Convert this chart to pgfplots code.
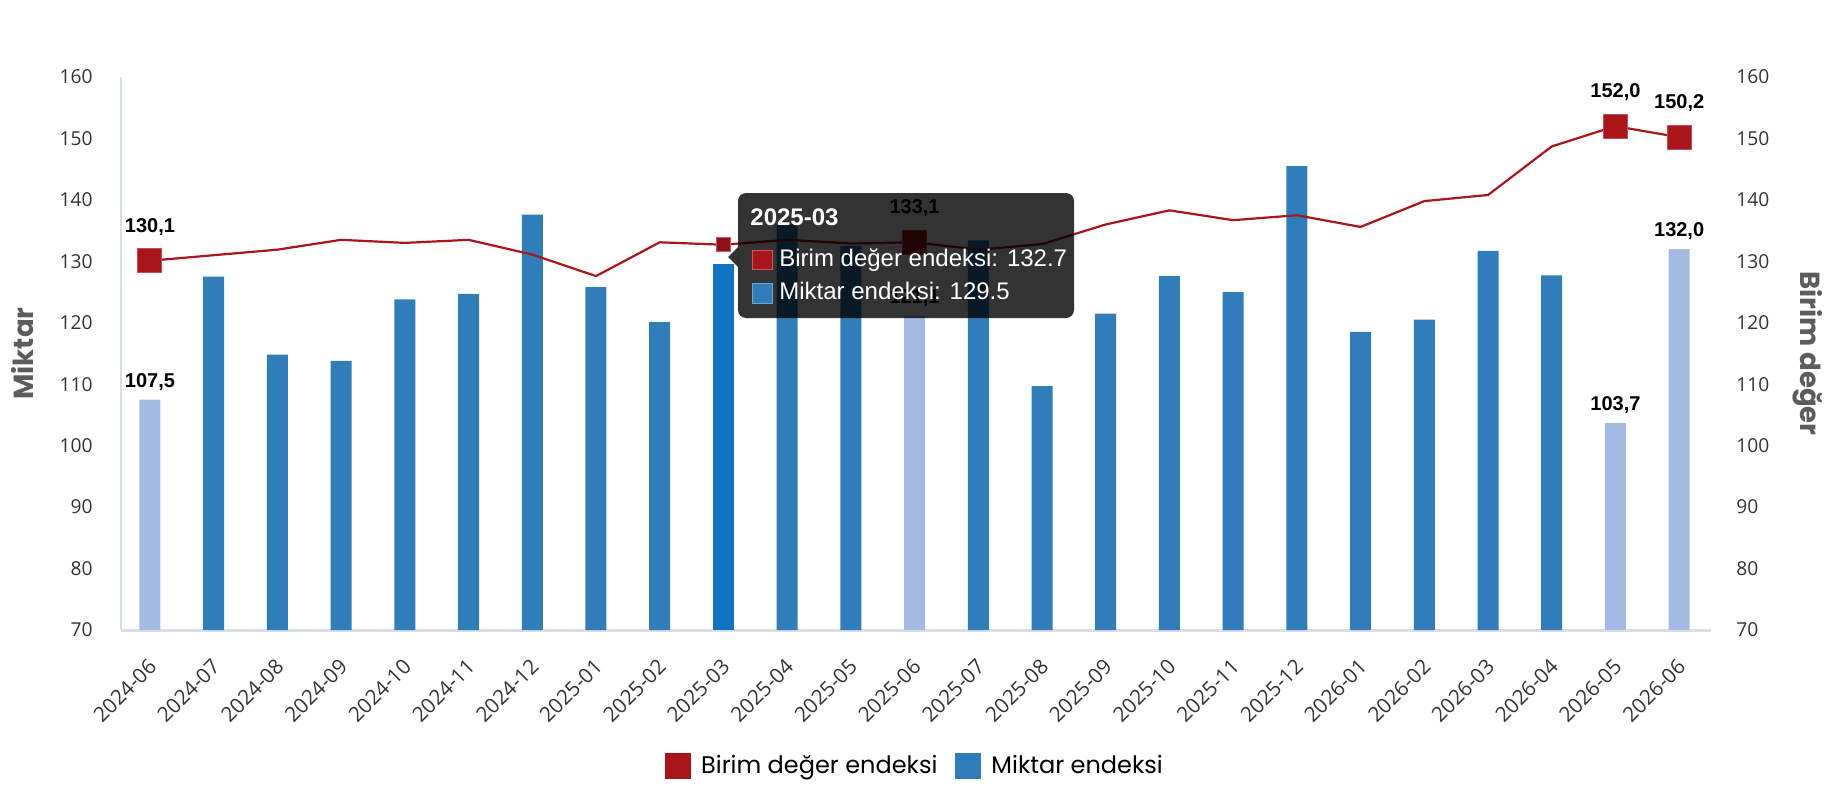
\documentclass[border=0pt]{standalone}
\usepackage{fontspec}
\setmainfont{Poppins}
\newfontfamily\arialf{Liberation Sans}
\newfontfamily\tickf{Open Sans}
\usepackage{pgfplots}
\pgfplotsset{compat=1.18}
\definecolor{barblue}{HTML}{307EB9}
\definecolor{barlight}{HTML}{A3BBE3}
\definecolor{barhi}{HTML}{0E74C1}
\definecolor{linered}{HTML}{AA151C}
\definecolor{axisgray}{HTML}{D9DEE5}
\definecolor{ticktext}{HTML}{333333}
\definecolor{titlegray}{HTML}{5C5C5C}
\pgfplotsset{
  /pgf/number format/assume math mode=true,
  base/.style={
    at={(60.5pt,85pt)}, anchor=south west,
    scale only axis, width=795pt, height=276.5pt,
    xmin=-0.455, xmax=24.5, ymin=70, ymax=160,
    ytick={70,80,...,160},
    major tick length=0pt,
    tick label style={font=\tickf\fontsize{9.6}{12}\selectfont, text=ticktext},
  },
  lbl/.style={nodes near coords={\pgfmathprintnumber[fixed, fixed zerofill, precision=1, use comma]{\pgfplotspointmeta}},
    every node near coord/.append style={font=\arialf\bfseries\fontsize{10}{12}\selectfont, text=black, anchor=south, inner sep=0pt, yshift=#1}},
}
\begin{document}
\begin{tikzpicture}
\useasboundingbox (0,0) rectangle (915pt,400pt);
\begin{axis}[base,
  axis y line*=left, axis x line*=bottom,
  x axis line style={axisgray, line width=1.5pt},
  y axis line style={axisgray, line width=0.6pt},
  xtick={0,...,24},
  xticklabels={2024-06,2024-07,2024-08,2024-09,2024-10,2024-11,2024-12,2025-01,2025-02,2025-03,2025-04,2025-05,2025-06,2025-07,2025-08,2025-09,2025-10,2025-11,2025-12,2026-01,2026-02,2026-03,2026-04,2026-05,2026-06},
  xticklabel style={font=\tickf\fontsize{10.4}{12}\selectfont, yshift=-13.5pt, xshift=-1.5pt, rotate=45, anchor=north east, inner sep=0pt},
  yticklabel style={anchor=east, inner sep=0pt, xshift=-14pt},
  ylabel={Miktar},
  ylabel style={at={(axis description cs:-0.062,0.5)}, anchor=center, font=\bfseries\fontsize{13.8}{16}\selectfont, text=titlegray},
]
\addplot[ybar, bar width=10.5pt, bar shift=0pt, fill=barblue, draw=none] coordinates {
(1,127.5) (2,114.8) (3,113.8) (4,123.8) (5,124.7) (6,137.6) (7,125.8) (8,120.1)
(10,136.0) (11,132.5) (13,133.4) (14,109.7) (15,121.5) (16,127.6) (17,125.0)
(18,145.5) (19,118.5) (20,120.5) (21,131.7) (22,127.7)};
\addplot[ybar, bar width=10.5pt, bar shift=0pt, fill=barhi, draw=none] coordinates {(9,129.5)};
\addplot[ybar, bar width=10.5pt, bar shift=0pt, fill=barlight, draw=none, lbl=4.5pt] coordinates {
(0,107.5) (12,121.1) (23,103.7) (24,132.0)};
\end{axis}
\begin{axis}[base,
  axis y line*=right, axis x line=none,
  y axis line style={draw=none},
  xtick=\empty,
  yticklabel style={anchor=west, inner sep=0pt, xshift=12.5pt},
  ylabel={Birim değer},
  ylabel style={at={(axis description cs:1.061,0.5)}, anchor=center, rotate=180, font=\bfseries\fontsize{13.8}{16}\selectfont, text=titlegray},
  legend style={at={(0.5,-0.246)}, anchor=center, legend columns=2, draw=none, fill=none,
    font=\fontsize{12}{14}\selectfont, inner sep=0pt,
    /tikz/every even column/.append style={column sep=7pt}},
  legend image code/.code={\fill[#1] (0pt,-6.5pt) rectangle (13pt,6.5pt); \path (16pt,0pt);},
]
\addlegendimage{fill=linered, draw=none}
\addlegendentry{Birim değer endeksi}
\addlegendimage{fill=barblue, draw=none}
\addlegendentry{Miktar endeksi}
\addplot[forget plot, linered, line width=1.1pt, mark=none] coordinates {
(0,130.1) (1,131.0) (2,131.9) (3,133.5) (4,133.0) (5,133.5) (6,131.1) (7,127.6)
(8,133.1) (9,132.7) (10,133.5) (11,132.9) (12,133.1) (13,131.9) (14,132.8)
(15,136.0) (16,138.3) (17,136.7) (18,137.5) (19,135.6) (20,139.8) (21,140.8)
(22,148.7) (23,152.0) (24,150.2)};
\addplot[forget plot, only marks, mark=square*, mark size=6pt, mark options={fill=linered, draw=linered!75!white, line width=0.5pt}, lbl=12.5pt] coordinates {
(0,130.1) (12,133.1) (23,152.0) (24,150.2)};
\addplot[forget plot, only marks, mark=square*, mark size=3.5pt, mark options={fill=linered!85!black, draw=linered!70!white, line width=0.5pt}] coordinates {(9,132.7)};
\end{axis}
% tooltip
\fill[black, opacity=0.8, rounded corners=4pt] (369pt,241pt) rectangle (537pt,303.5pt);
\fill[black, opacity=0.8] (369pt,276.5pt) -- (364pt,271.5pt) -- (369pt,266.5pt) -- cycle;
\node[anchor=base west, inner sep=0pt, text=white, font=\arialf\bfseries\fontsize{12}{14}\selectfont] at (375pt,287.5pt) {2025-03};
\fill[linered, draw=linered!70!white, line width=0.4pt] (376pt,265.5pt) rectangle (386pt,275pt);
\node[anchor=base west, inner sep=0pt, text=white, font=\arialf\fontsize{12}{14}\selectfont] at (389.5pt,267pt) {Birim değer endeksi: 132.7};
\fill[barblue, draw=barblue!70!white, line width=0.4pt] (376pt,248.5pt) rectangle (386pt,258.5pt);
\node[anchor=base west, inner sep=0pt, text=white, font=\arialf\fontsize{12}{14}\selectfont] at (389.5pt,250.5pt) {Miktar endeksi: 129.5};
\end{tikzpicture}
\end{document}
